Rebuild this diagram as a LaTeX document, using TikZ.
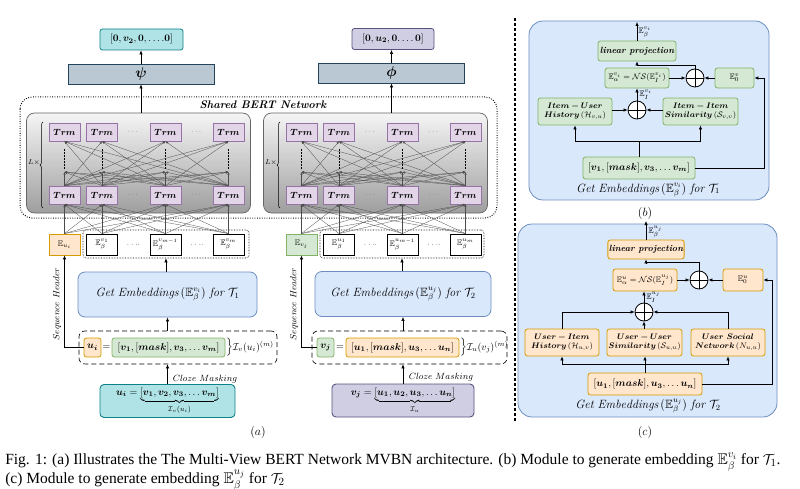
\documentclass[tikz,border=0pt]{standalone}
\usepackage{fontspec}
\usepackage{amsmath,amssymb,bm}
\usetikzlibrary{arrows.meta,calc,decorations.pathreplacing}
\newfontfamily\capfont{Liberation Serif}

\definecolor{trmfill}{HTML}{E1D5E7}
\definecolor{trmline}{HTML}{9673A6}
\definecolor{orgfill}{HTML}{FFE6CC}
\definecolor{orgline}{HTML}{D79B00}
\definecolor{grnfill}{HTML}{D5E8D4}
\definecolor{grnline}{HTML}{82B366}
\definecolor{blufill}{HTML}{DAE8FC}
\definecolor{bluline}{HTML}{6C8EBF}
\definecolor{cyafill}{HTML}{B0E3E6}
\definecolor{cyaline}{HTML}{0E8088}
\definecolor{purfill}{HTML}{D0CEE2}
\definecolor{purline}{HTML}{56517E}
\definecolor{netfill}{HTML}{BAC8D3}
\definecolor{netline}{HTML}{23445D}

\tikzset{
  every picture/.style={line width=0.6pt},
  arr/.style={-{Latex[length=4pt,width=3.4pt]}},
  linkarr/.style={line width=0.3pt, draw=black!70, -{Latex[length=2.6pt,width=2.2pt]}},
  trmbox/.style={draw=trmline, fill=trmfill, line width=0.8pt, minimum width=31pt, minimum height=18pt, inner sep=0pt, font=\small},
  embbox/.style={draw, fill=white, line width=0.9pt, minimum width=31pt, minimum height=21pt, inner sep=0pt, font=\footnotesize},
  netbox/.style={draw=netline, fill=netfill, line width=0.8pt, minimum width=146pt, minimum height=20pt, inner sep=0pt, font=\Large},
  outbox/.style={rounded corners=2.5pt, line width=0.8pt, minimum height=21pt, inner sep=1pt, font=\normalsize},
  getbox/.style={draw=bluline, fill=blufill, rounded corners=7pt, line width=0.8pt, minimum height=45pt, inner sep=0pt, font=\large},
  seqbox/.style={rounded corners=2.5pt, line width=0.8pt, minimum height=19pt, inner sep=1pt, font=\normalsize},
  inbox/.style={rounded corners=4pt, line width=0.9pt, minimum height=33pt, inner sep=0pt, font=\normalsize},
  grnbox/.style={draw=grnline, fill=grnfill, rounded corners=2.5pt, line width=0.8pt, inner sep=1pt, font=\footnotesize},
  orgbox/.style={draw=orgline, fill=orgfill, rounded corners=2.5pt, line width=0.8pt, inner sep=1pt, font=\footnotesize},
  sumnode/.style={circle, draw, line width=0.8pt, fill=white, minimum size=18pt, inner sep=0pt,
    path picture={\draw (path picture bounding box.north) -- (path picture bounding box.south)
      (path picture bounding box.west) -- (path picture bounding box.east);}},
  panel/.style={draw=bluline, fill=blufill, rounded corners=14pt, line width=0.8pt},
}

\begin{document}
\begin{tikzpicture}[x=1pt,y=-1pt]
  \useasboundingbox (0,0) rectangle (800,489);

  %% (a) shared BERT network
  \draw[line width=1pt, dash pattern=on 0.8pt off 1.6pt, rounded corners=12pt] (20,97) rectangle (497,218);
  \node[font=\fontsize{11}{13}\selectfont\bfseries\itshape] at (263,105) {Shared BERT Network};

  \foreach \s/\dx in {l/0,r/237}{
    \node[draw=black!60, line width=0.7pt, rounded corners=8pt, top color=black!4, bottom color=black!38,
          minimum width=224pt, minimum height=100pt] (\s blk) at (138.5+\dx,163) {};
    \foreach \k/\cx in {1/64.5,2/102,3/165.5,4/228.5}{
      \node[trmbox] (\s t\k) at (\cx+\dx,132) {$\bm{Trm}$};
      \node[trmbox] (\s b\k) at (\cx+\dx,195) {$\bm{Trm}$};
      \coordinate (\s m\k) at (\cx+\dx,172);
    }
    \foreach \cx in {133.5,197}{
      \node[text=black!60, font=\scriptsize] at (\cx+\dx,132) {$\cdots$};
      \node[text=black!60, font=\scriptsize] at (\cx+\dx,195) {$\cdots$};
    }
    \draw[decorate, decoration={brace, amplitude=3pt}, line width=0.5pt] (43+\dx,208) -- (43+\dx,122);
    \node[font=\scriptsize, inner sep=0pt] at (34+\dx,163) {$L\times$};
    % layer links
    \foreach \i in {1,...,4}{
      \draw[densely dotted, line width=0.5pt] ($(\s m\i)+(0,-3)$) -- ($(\s t\i.south)+(0,8)$);
      \foreach \j in {1,...,4}{
        \draw[linkarr] (\s b\j.north) -- (\s m\i);
        \ifnum\i=\j\relax\else\draw[linkarr] (\s b\j.north) -- (\s t\i.south);\fi
      }
    }
  }

  %% heads
  \node[netbox] (lpsi) at (141,74) {$\bm{\psi}$};
  \node[netbox] (rphi) at (391.5,73) {$\bm{\phi}$};
  \node[outbox, draw=cyaline, fill=cyafill, minimum width=83pt] (lout) at (141.5,39.5) {$[\bm{0},\bm{v_2},\bm{0},\ldots.\bm{0}]$};
  \node[outbox, draw=purline, fill=purfill, minimum width=82pt] (rout) at (393,39) {$[\bm{0},\bm{u_2},\bm{0}.\ldots\bm{0}]$};
  \draw[arr] (lblk.north -| lpsi.south) -- (lpsi.south);
  \draw[arr] (lpsi.north) -- (lpsi.north |- lout.south);
  \draw[arr] (rblk.north -| rphi.south) -- (rphi.south);
  \draw[arr] (rphi.north) -- (rphi.north |- rout.south);

  %% embedding rows
  \node[draw, densely dotted, rounded corners=3pt, minimum width=166pt, minimum height=28pt] (lfr) at (166,244) {};
  \node[embbox, draw=orgline, fill=orgfill] (le1) at (64.5,244.5) {$\mathbb{E}_{u_i}$};
  \node[embbox] (le2) at (102,244.5) {$\mathbb{E}_\beta^{v_1}$};
  \node[embbox] (le3) at (165.5,244.5) {$\mathbb{E}_\beta^{v_{m-1}}$};
  \node[embbox] (le4) at (228.5,244.5) {$\mathbb{E}_\beta^{v_m}$};
  \node[draw, densely dotted, rounded corners=3pt, minimum width=164pt, minimum height=28pt] (rfr) at (402,244) {};
  \node[embbox, draw=grnline, fill=grnfill] (re1) at (301.5,244.5) {$\mathbb{E}_{v_j}$};
  \node[embbox] (re2) at (339,244.5) {$\mathbb{E}_\beta^{u_1}$};
  \node[embbox] (re3) at (402.5,244.5) {$\mathbb{E}_\beta^{u_{m-1}}$};
  \node[embbox] (re4) at (465.5,244.5) {$\mathbb{E}_\beta^{u_m}$};
  \foreach \cx in {133.5,197,370.5,434}{
    \node[font=\scriptsize] at (\cx,244.5) {$\cdot\cdot\cdot\cdot$};
  }
  \foreach \s in {l,r}{
    \foreach \i in {1,...,4}{
      \foreach \j in {1,...,4}{
        \draw[linkarr] (\s e\j.north) -- (\s b\i.south);
      }
    }
  }

  %% left input side
  \node[getbox, minimum width=179pt] (lget) at (167.5,294.5) {$\mathit{Get\ Embeddings}\,(\mathbb{E}_\beta^{v_i})\ \mathit{for}\ \mathcal{T}_1$};
  \draw[arr] (lget.north -| lfr.south) -- (lfr.south);
  \node[draw, dash pattern=on 5pt off 3pt, rounded corners=6pt, minimum width=198pt, minimum height=33pt] (ldash) at (178,347.5) {};
  \node[seqbox, draw=orgline, fill=orgfill, minimum width=17pt] (lhead) at (92.5,347.5) {$\bm{u_i}$};
  \node[font=\normalsize] at (106.5,347.5) {$=$};
  \node[seqbox, draw=grnline, fill=grnfill, minimum width=113pt] (lseq) at (168.5,347.5) {$[\bm{v_1},[\bm{mask}],\bm{v_3},\ldots\bm{v_m}]$};
  \node[anchor=west, inner sep=0.5pt, font=\normalsize] at (lseq.east) {$\Big\}\mathcal{I}_v(u_i)^{(m)}$};
  \draw[arr] (lhead.west) -| (le1.south);
  \node[rotate=90, font=\small] at (57,304) {$Sequence\ Header$};
  \node[inbox, draw=cyaline, fill=cyafill, minimum width=135pt] (lin) at (167.5,401) {$\bm{u_i}=\underbrace{[\bm{v_1},\bm{v_2},\bm{v_3},\ldots\bm{v_m}]}_{\mathcal{I}_v(u_i)}$};
  \draw[arr] (lin.north) -- (lin.north |- ldash.south);
  \draw[arr] (ldash.north -| lget.south) -- (lget.south);
  \node[font=\small] at (205,379) {$Cloze\ Masking$};
  \node[font=\large] at (258,432) {$(a)$};

  %% right input side
  \node[getbox, minimum width=176pt] (rget) at (403,294) {$\mathit{Get\ Embeddings}\,(\mathbb{E}_\beta^{u_j})\ \mathit{for}\ \mathcal{T}_2$};
  \draw[arr] (rget.north -| rfr.south) -- (rfr.south);
  \node[draw, dash pattern=on 5pt off 3pt, rounded corners=6pt, minimum width=195pt, minimum height=33pt] (rdash) at (409.5,347.5) {};
  \node[seqbox, draw=grnline, fill=grnfill, minimum width=17pt] (rhead) at (325.5,347.5) {$\bm{v_j}$};
  \node[font=\normalsize] at (340,347.5) {$=$};
  \node[seqbox, draw=orgline, fill=orgfill, minimum width=113pt] (rseq) at (402.5,347.5) {$[\bm{u_1},[\bm{mask}],\bm{u_3},\ldots\bm{u_n}]$};
  \node[anchor=west, inner sep=0.5pt, font=\normalsize] at (rseq.east) {$\Big\}\mathcal{I}_u(v_j)^{(m)}$};
  \draw[arr] (rhead.west) -| (re1.south);
  \node[rotate=90, font=\small] at (294,304) {$Sequence\ Header$};
  \node[inbox, draw=purline, fill=purfill, minimum width=142pt] (rin) at (403,400.5) {$\bm{v_j}=\underbrace{[\bm{u_1},\bm{u_2},\bm{u_3},\ldots\bm{u_n}]}_{\mathcal{I}_u}$};
  \draw[arr] (rin.north) -- (rin.north |- rdash.south);
  \draw[arr] (rdash.north -| rget.south) -- (rget.south);
  \node[font=\small] at (441,377) {$Cloze\ Masking$};

  %% separator
  \draw[line width=1.6pt, dash pattern=on 3pt off 2pt] (515,18) -- (515,421);

  %% (b)
  \draw[panel] (529,21) rectangle (769,200);
  \node[grnbox, minimum width=78pt, minimum height=20pt, font=\small\bfseries\itshape] (blin) at (637,51) {linear projection};
  \node[grnbox, minimum width=64pt, minimum height=20pt] (bns) at (637,78) {$\mathbb{E}_\alpha^{v_i}=\mathcal{NS}(\mathbb{E}_I^{v_i})$};
  \node[sumnode] (bsum1) at (695,78) {};
  \node[grnbox, minimum width=39pt, minimum height=20pt] (bzero) at (734.5,78) {$\mathbb{E}_0^{v}$};
  \node[sumnode] (bsum2) at (637,110) {};
  \node[grnbox, minimum width=74pt, minimum height=27pt, align=center] (bhist) at (575,111.5) {$\bm{Item-User}$\\[-1pt]$\bm{History}\,(\mathcal{H}_{v,u})$};
  \node[grnbox, minimum width=75pt, minimum height=27pt, align=center] (bsim) at (700.5,111.5) {$\bm{Item-Item}$\\[-1pt]$\bm{Similarity}\,(\mathcal{S}_{v,v})$};
  \node[grnbox, minimum width=112pt, minimum height=22pt, font=\normalsize] (bseq) at (639,168) {$[\bm{v_1},[\bm{mask}],\bm{v_3},\ldots\bm{v_m}]$};
  \coordinate (bup) at (637,22);
  \draw[arr] (blin.north) -- (bup) node[pos=0.45, right, inner sep=1pt, font=\footnotesize] {$\mathbb{E}_\beta^{v_i}$};
  \draw[arr] (bsum1.north) -- ++(0,-3) -| (blin.south);
  \draw[arr] (bns.east) -- (bsum1.west);
  \draw[arr] (bzero.west) -- (bsum1.east);
  \draw[arr] (bsum2.north) -- (bns.south) node[midway, right, inner sep=2pt, font=\footnotesize] {$\mathbb{E}_I^{v_i}$};
  \draw[arr] (bhist.east |- bsum2) -- (bsum2.west);
  \draw[arr] (bsim.west |- bsum2) -- (bsum2.east);
  \draw (bseq.north) -- ++(0,-15) coordinate (bsplit);
  \draw[arr] (bsplit) -| (bhist.south);
  \draw[arr] (bsplit) -| (bsim.south);
  \draw[arr] (bseq.east) -- ++(69,0) |- (bzero.east);
  \node[font=\large] at (648,190) {$\mathit{Get\ Embeddings}\,(\mathbb{E}_\beta^{v_i})\ \mathit{for}\ \mathcal{T}_1$};
  \node[font=\large] at (645,213) {$(b)$};

  %% (c)
  \draw[panel] (518,224) rectangle (777,417);
  \node[orgbox, minimum width=76pt, minimum height=19pt, font=\small\bfseries\itshape] (clin) at (646,249.5) {linear projection};
  \node[orgbox, minimum width=64pt, minimum height=22pt] (cns) at (645,280) {$\mathbb{E}_\alpha^{u}=\mathcal{NS}(\mathbb{E}_I^{u_j})$};
  \node[sumnode] (csum1) at (699,280) {};
  \node[orgbox, minimum width=40pt, minimum height=22pt] (czero) at (743,280) {$\mathbb{E}_0^{u}$};
  \node[sumnode] (csum2) at (644,312) {};
  \node[orgbox, minimum width=74pt, minimum height=27pt, align=center] (chist) at (562,342.5) {$\bm{User-Item}$\\[-1pt]$\bm{History}\,(\mathcal{H}_{u,v})$};
  \node[orgbox, minimum width=75pt, minimum height=27pt, align=center] (csim) at (644.5,342.5) {$\bm{User-User}$\\[-1pt]$\bm{Similarity}\,(\mathcal{S}_{u,u})$};
  \node[orgbox, minimum width=74pt, minimum height=27pt, align=center] (csoc) at (728,342.5) {$\bm{User\ Social}$\\[-1pt]$\bm{Network}\,(N_{u,u})$};
  \node[orgbox, minimum width=114pt, minimum height=22pt, font=\normalsize] (cseq) at (645,384) {$[\bm{u_1},[\bm{mask}],\bm{u_3},\ldots\bm{u_n}]$};
  \coordinate (cup) at (646,221);
  \draw[arr] (clin.north) -- (cup) node[pos=0.4, right, inner sep=2pt, font=\footnotesize] {$\mathbb{E}_\beta^{u_j}$};
  \draw[arr] (csum1.north) -- ++(0,-8) -| (clin.south);
  \draw[arr] (cns.east) -- (csum1.west);
  \draw[arr] (czero.west) -- (csum1.east);
  \draw[arr] (csum2.north) -- (csum2.north |- cns.south) node[midway, right, inner sep=2pt, font=\footnotesize] {$\mathbb{E}_I^{u_j}$};
  \draw[arr] (chist.north) |- (csum2.west);
  \draw[arr] (csoc.north) |- (csum2.east);
  \draw[arr] (csim.north -| csum2.south) -- (csum2.south);
  \draw (cseq.north) -- ++(0,-8) coordinate (csplit);
  \draw[arr] (csplit) -| (chist.south);
  \draw[arr] (csplit) -| (csoc.south);
  \draw[arr] (csplit) -- (csplit |- csim.south);
  \draw[arr] (cseq.east) -- ++(70,0) |- (czero.east);
  \node[font=\large] at (648,406) {$\mathit{Get\ Embeddings}\,(\mathbb{E}_\beta^{u_j})\ \mathit{for}\ \mathcal{T}_2$};
  \node[font=\large] at (645,432) {$(c)$};

  %% caption
  \node[anchor=base west, inner sep=0pt, font=\capfont\fontsize{15.5}{19}\selectfont] (cap1) at (5,464) {Fig. 1: (a) Illustrates the The Multi-View BERT Network MVBN architecture. (b) Module to generate embedding $\mathbb{E}_\beta^{v_i}$ for $\mathcal{T}_1$.};
  \node[anchor=base west, inner sep=0pt, font=\capfont\fontsize{15.5}{19}\selectfont] (cap2) at (5,483) {(c) Module to generate embedding $\mathbb{E}_\beta^{u_j}$ for $\mathcal{T}_2$};
\end{tikzpicture}
\end{document}
